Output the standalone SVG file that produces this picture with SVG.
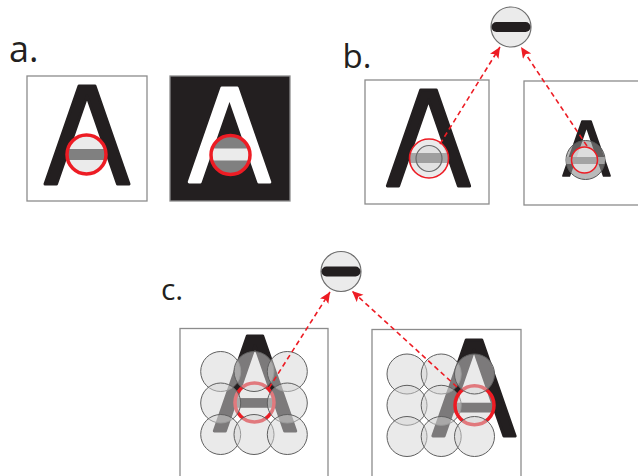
<svg xmlns="http://www.w3.org/2000/svg" width="638" height="476" viewBox="0 0 638 476">
  <style>
    .lbl { font-family: "Open Sans", "Noto Sans", "Liberation Sans", sans-serif; fill: #231f20; }
    .frame { fill: #ffffff; stroke: #8c8c8c; stroke-width: 1.3; }
    .ink { fill: #231f20; stroke: #231f20; stroke-width: 3; stroke-linejoin: round; }
    .paper { fill: #ffffff; stroke: #ffffff; stroke-width: 3; stroke-linejoin: round; }
    .patch { fill: #d6d6d6; fill-opacity: 0.5; stroke: #5f5f5f; stroke-width: 1; }
    .probe { fill: #d6d6d6; fill-opacity: 0.5; stroke: #ed1c24; stroke-width: 3.5; }
    .ring { fill: none; stroke: #ed1c24; }
    .link { fill: none; stroke: #ed1c24; stroke-width: 1.6; stroke-dasharray: 5 3.5; marker-end: url(#head); }
  </style>
  <defs>
    <!-- sans-serif capital A outline, apex at (0,0), height 98 -->
    <path id="glyphA" d="M-8,0 L8,0 L42,98 L30.5,98 L0,10 L-30.5,98 L-42,98 Z"/>
    <marker id="head" markerUnits="userSpaceOnUse" markerWidth="12" markerHeight="11" refX="11" refY="5" orient="auto">
      <path d="M0,0 L11,5 L0,10 L2.5,5 Z" fill="#ed1c24"/>
    </marker>
    <!-- template disc with horizontal bar -->
    <g id="template">
      <circle r="20" fill="#ebebeb" stroke="#6d6d6d" stroke-width="1.2"/>
      <rect x="-19.5" y="-5" width="39" height="10" rx="5" fill="#231f20"/>
    </g>
    <clipPath id="clipA1"><circle cx="86.5" cy="154.5" r="19.5"/></clipPath>
    <clipPath id="clipA2"><circle cx="230.5" cy="155" r="19.5"/></clipPath>
    <clipPath id="clipB1"><circle cx="429" cy="158.5" r="19.5"/></clipPath>
    <clipPath id="clipB2"><circle cx="585.5" cy="160" r="19.5"/></clipPath>
  </defs>

  <!-- labels -->
  <text class="lbl" x="9" y="62" font-size="36">a.</text>
  <text class="lbl" x="342.5" y="68" font-size="33">b.</text>
  <text class="lbl" x="161" y="299.5" font-size="30">c.</text>

  <!-- a: dark letter on light ground -->
  <g id="panel-a-light">
    <rect class="frame" x="27" y="76" width="120" height="125"/>
    <use href="#glyphA" class="ink" transform="translate(87,86)"/>
    <circle cx="86.5" cy="154.5" r="19.5" fill="#ebebeb"/>
    <rect x="66" y="149" width="41" height="11" fill="#808080" clip-path="url(#clipA1)"/>
    <circle class="ring" cx="86.5" cy="154.5" r="19.5" stroke-width="3.5"/>
  </g>

  <!-- a: light letter on dark ground -->
  <g id="panel-a-dark">
    <rect x="170" y="76" width="120" height="125" fill="#231f20" stroke="#8c8c8c" stroke-width="1.3"/>
    <use href="#glyphA" class="paper" transform="translate(229.5,88) scale(0.96)"/>
    <circle cx="230.5" cy="155" r="19.5" fill="#808080"/>
    <rect x="210" y="148.5" width="41" height="12" fill="#ebebeb" clip-path="url(#clipA2)"/>
    <circle class="ring" cx="230.5" cy="155" r="19.5" stroke-width="3.5"/>
  </g>

  <!-- b: template disc -->
  <g id="template-b">
    <use href="#template" transform="translate(511,27)"/>
  </g>

  <!-- b: large letter -->
  <g id="panel-b-large">
    <rect class="frame" x="365" y="80" width="124" height="124"/>
    <use href="#glyphA" class="ink" transform="translate(428.5,90) scale(0.98)"/>
    <circle cx="429" cy="158.5" r="19.5" fill="#e9e9e9" fill-opacity="0.92"/>
    <rect x="409" y="153" width="41" height="10" fill="#a6a6a6" clip-path="url(#clipB1)"/>
    <circle cx="429" cy="158.5" r="13" fill="#000000" fill-opacity="0.04" stroke="#6a6a6a" stroke-width="1.2"/>
    <circle class="ring" cx="429" cy="158.5" r="19.5" stroke-width="1.6"/>
  </g>

  <!-- b: small letter -->
  <g id="panel-b-small">
    <rect class="frame" x="524" y="81" width="130" height="124"/>
    <use href="#glyphA" class="ink" transform="translate(586.5,121) scale(0.56)"/>
    <circle cx="585.5" cy="160" r="19.5" fill="#8c8c8c" fill-opacity="0.6" stroke="#555555" stroke-width="1"/>
    <circle cx="584.5" cy="160" r="13" fill="#e6e6e6" fill-opacity="0.8"/>
    <rect x="566" y="157" width="40" height="7" fill="#a3a3a3" clip-path="url(#clipB2)"/>
    <circle class="ring" cx="584.5" cy="160" r="13" stroke-width="1.5"/>
  </g>

  <!-- c: template disc -->
  <g id="template-c">
    <use href="#template" transform="translate(341,271.5)"/>
  </g>

  <!-- c: letter centred under a 3x3 grid of patches -->
  <g id="panel-c-centre">
    <rect class="frame" x="180" y="328.5" width="148" height="160"/>
    <g transform="translate(255,336) scale(0.97)">
      <use href="#glyphA" class="ink"/>
      <rect x="-28" y="64" width="56" height="10" fill="#231f20"/>
    </g>
    <circle class="probe" cx="254.5" cy="402.5" r="19.5"/>
    <circle class="patch" cx="220.7" cy="371.5" r="20"/>
    <circle class="patch" cx="254" cy="371.5" r="20"/>
    <circle class="patch" cx="287.3" cy="371.5" r="20"/>
    <circle class="patch" cx="220.7" cy="403" r="20"/>
    <circle class="patch" cx="287.3" cy="403" r="20"/>
    <circle class="patch" cx="220.7" cy="434.5" r="20"/>
    <circle class="patch" cx="254" cy="434.5" r="20"/>
    <circle class="patch" cx="287.3" cy="434.5" r="20"/>
  </g>

  <!-- c: letter shifted to the right of the grid -->
  <g id="panel-c-shifted">
    <rect class="frame" x="372" y="329.5" width="149" height="160"/>
    <g transform="translate(474,340) scale(0.98)">
      <use href="#glyphA" class="ink"/>
      <rect x="-28" y="64" width="56" height="10" fill="#231f20"/>
    </g>
    <circle class="patch" cx="407" cy="374" r="20"/>
    <circle class="patch" cx="407" cy="405.3" r="20"/>
    <circle class="patch" cx="407" cy="436.5" r="20"/>
    <circle class="patch" cx="441.2" cy="374" r="20"/>
    <circle class="patch" cx="441.2" cy="405.3" r="20"/>
    <circle class="patch" cx="441.2" cy="436.5" r="20"/>
    <circle class="probe" cx="474.5" cy="405.3" r="19.5"/>
    <circle class="patch" cx="474.5" cy="374" r="20"/>
    <circle class="patch" cx="474.5" cy="436.5" r="20"/>
  </g>

  <!-- connectors -->
  <g id="connectors">
    <path class="link" d="M440,144 L500,47"/>
    <path class="link" d="M587,146 L521,47"/>
    <path class="link" d="M269,388 L330,292"/>
    <path class="link" d="M457,387 L352,291"/>
  </g>
</svg>
